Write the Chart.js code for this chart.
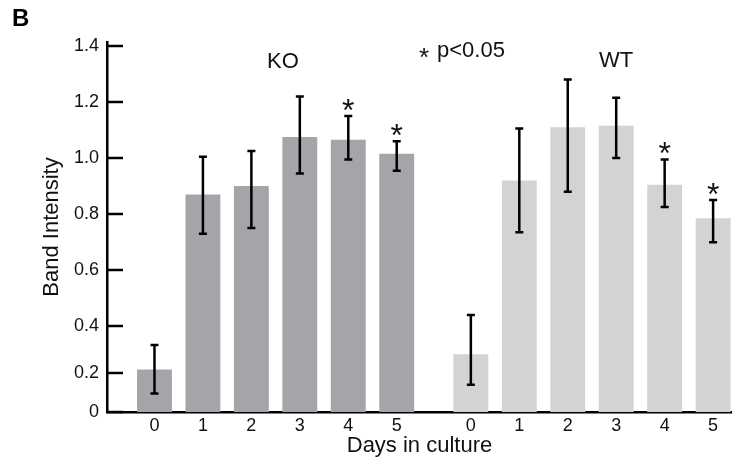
<!DOCTYPE html>
<html>
<head>
<meta charset="utf-8">
<script src="https://cdn.jsdelivr.net/npm/chart.js@4.4.1/dist/chart.umd.min.js"></script>
<style>
  body { margin: 0; background: #fff; }
  canvas { display: block; }
</style>
</head>
<body>
<canvas id="myChart" width="732" height="461"></canvas>
<script>
const days = ["0", "1", "2", "3", "4", "5"];

const koMean = [0.215, 0.87, 0.90, 1.075, 1.065, 1.015];
const koHigh = [0.32, 1.005, 1.025, 1.22, 1.15, 1.06];
const koLow = [0.095, 0.73, 0.75, 0.945, 0.995, 0.955];
const koSig = [false, false, false, false, true, true];

const wtMean = [0.28, 0.92, 1.11, 1.115, 0.905, 0.785];
const wtHigh = [0.44, 1.105, 1.28, 1.215, 0.995, 0.85];
const wtLow = [0.14, 0.735, 0.88, 1.0, 0.825, 0.70];
const wtSig = [false, false, false, false, true, true];

const yTicks = [0, 0.2, 0.4, 0.6, 0.8, 1.0, 1.2, 1.4];

const font = "'Liberation Sans', Arial, sans-serif";
const wtStart = 6.53;

// the printed axis is squeezed below 0.4, so use a piecewise value axis
class PiecewiseScale extends Chart.LinearScale {
  static id = "piecewise";

  heightOf(v) {
    if (v <= 0.2) return v / 0.2 * 39;
    if (v <= 0.4) return 39 + (v - 0.2) / 0.2 * 46.7;
    return 85.7 + (v - 0.4) * 280;
  }

  getPixelForValue(value) {
    return this.getPixelForDecimal(this.heightOf(value) / this.heightOf(this.max));
  }

  getValueForPixel(pixel) {
    const h = this.getDecimalForPixel(pixel) * this.heightOf(this.max);
    if (h <= 39) return h / 39 * 0.2;
    if (h <= 85.7) return 0.2 + (h - 39) / 46.7 * 0.2;
    return 0.4 + (h - 85.7) / 280;
  }
}
Chart.register(PiecewiseScale);

function points(values, start) {
  return values.map((v, i) => ({x: start + i, y: v}));
}

function drawErrors(ctx, meta, high, low, sig, yScale) {
  meta.data.forEach((bar, i) => {
    const top = yScale.getPixelForValue(high[i]);
    const bottom = yScale.getPixelForValue(low[i]);
    ctx.beginPath();
    ctx.moveTo(bar.x, top);
    ctx.lineTo(bar.x, bottom);
    ctx.moveTo(bar.x - 4, top);
    ctx.lineTo(bar.x + 4, top);
    ctx.moveTo(bar.x - 4, bottom);
    ctx.lineTo(bar.x + 4, bottom);
    ctx.stroke();
    if (sig[i]) {
      ctx.font = "32px " + font;
      ctx.textAlign = "center";
      ctx.textBaseline = "alphabetic";
      ctx.fillText("*", bar.x, top + 5);
    }
  });
}

const extras = {
  id: "extras",
  afterDatasetsDraw(chart) {
    const ctx = chart.ctx;
    const x = chart.scales.x;
    const y = chart.scales.y;
    ctx.save();
    ctx.strokeStyle = "#000";
    ctx.fillStyle = "#111";
    ctx.lineWidth = 2.5;

    yTicks.forEach(t => {
      const py = Math.round(y.getPixelForValue(t));
      ctx.beginPath();
      ctx.moveTo(x.left, py);
      ctx.lineTo(x.left + 16, py);
      ctx.stroke();
    });

    drawErrors(ctx, chart.getDatasetMeta(0), koHigh, koLow, koSig, y);
    drawErrors(ctx, chart.getDatasetMeta(1), wtHigh, wtLow, wtSig, y);

    ctx.textBaseline = "alphabetic";
    ctx.textAlign = "center";
    ctx.font = "22px " + font;
    ctx.fillText("KO", x.getPixelForValue(2.65), 68);
    ctx.fillText("WT", x.getPixelForValue(wtStart + 3), 67);

    ctx.textAlign = "left";
    ctx.fillText("p<0.05", 437, 57);
    ctx.textAlign = "center";
    ctx.font = "26px " + font;
    ctx.fillText("*", 424, 66);

    ctx.textAlign = "left";
    ctx.font = "bold 24px " + font;
    ctx.fillStyle = "#000";
    ctx.fillText("B", 12, 26);
    ctx.restore();
  }
};

new Chart("myChart", {
  type: "bar",
  data: {
    datasets: [{
      label: "KO",
      data: points(koMean, 0),
      backgroundColor: "#a4a5a8",
      grouped: false
    }, {
      label: "WT",
      data: points(wtMean, wtStart),
      backgroundColor: "#d2d3d5",
      grouped: false
    }]
  },
  options: {
    responsive: false,
    animation: false,
    devicePixelRatio: 1,
    barPercentage: 0.72,
    categoryPercentage: 1,
    layout: {padding: {top: 42, left: 0, right: 0, bottom: 0}},
    plugins: {
      legend: {display: false},
      tooltip: {enabled: false}
    },
    scales: {
      x: {
        type: "linear",
        min: -0.98,
        max: 11.92,
        offset: false,
        grid: {display: false, drawTicks: false},
        border: {color: "#000", width: 2.5},
        afterBuildTicks: axis => {
          axis.ticks = days.map((d, i) => ({value: i}))
            .concat(days.map((d, i) => ({value: wtStart + i})));
        },
        ticks: {
          callback: (value, index) => days[index % days.length],
          font: {family: font, size: 18},
          color: "#111",
          padding: 3.6,
          maxRotation: 0,
          autoSkip: false
        },
        title: {
          display: true,
          text: "Days in culture",
          font: {family: font, size: 22},
          color: "#111",
          padding: {top: 0, bottom: 2}
        },
        afterFit: scale => { scale.height = 49; }
      },
      y: {
        type: "piecewise",
        min: 0,
        max: 1.414,
        grid: {display: false, drawTicks: false},
        border: {color: "#000", width: 2.5},
        afterBuildTicks: axis => {
          axis.ticks = yTicks.map(v => ({value: v}));
        },
        ticks: {
          callback: value => value === 0 ? "0" : value.toFixed(1),
          font: {family: font, size: 18},
          color: "#111",
          padding: 8
        },
        title: {
          display: true,
          text: "Band Intensity",
          font: {family: font, size: 22},
          color: "#111",
          padding: {top: 38.5, bottom: 0}
        },
        afterFit: scale => { scale.width = 107; }
      }
    }
  },
  plugins: [extras]
});
</script>
</body>
</html>
